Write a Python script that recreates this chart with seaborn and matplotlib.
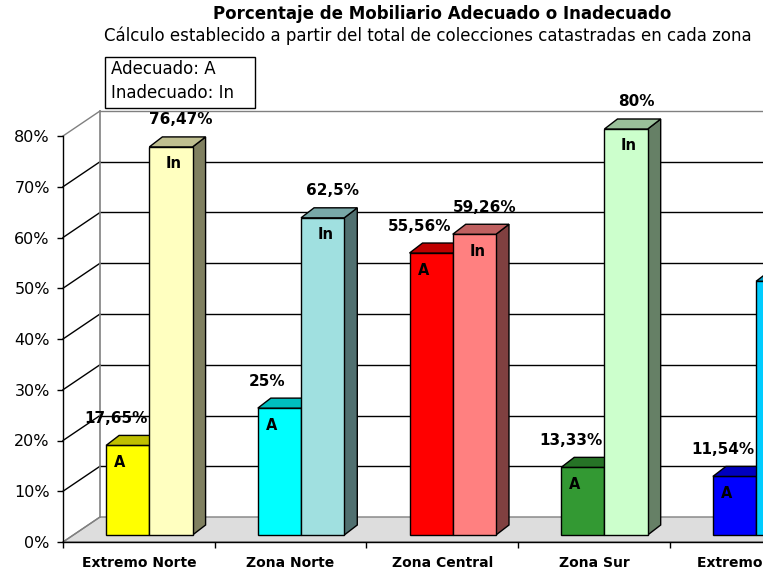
import matplotlib
matplotlib.use("Agg")
import matplotlib.pyplot as plt
import matplotlib.colors as mcolors
from matplotlib.patches import Polygon, Rectangle
import seaborn as sns
import pandas as pd

# ---- data ----
zonas = ["Extremo Norte", "Zona Norte", "Zona Central", "Zona Sur", "Extremo Sur"]
adecuado = [17.65, 25, 55.56, 13.33, 11.54]
inadecuado = [76.47, 62.5, 59.26, 80, 50]
colores_a = ["#FFFF00", "#00FFFF", "#FF0000", "#339933", "#0000FF"]
colores_in = ["#FFFFC0", "#A0E0E0", "#FF8080", "#CCFFCC", "#00CCFF"]
yticks = [0, 10, 20, 30, 40, 50, 60, 70, 80]

plt.rcParams['font.family'] = ['DejaVu Sans']

W, H = 763, 573
fig = plt.figure(figsize=(W / 100, H / 100), dpi=100)
ax = fig.add_axes([63 / W, 31 / H, 758.5 / W, 406 / H])

df = pd.DataFrame({
    "zona": zonas * 2,
    "tipo": ["A"] * len(zonas) + ["In"] * len(zonas),
    "valor": adecuado + inadecuado,
})
sns.barplot(data=df, x="zona", y="valor", hue="tipo", width=0.57, dodge=True,
            legend=False, edgecolor="black", linewidth=1, ax=ax)
ax.set_xlim(-0.5, 4.5)
ax.set_ylim(0, 80)

# pixel -> data conversion for the fake 3D depth
cat_px = 758.5 / 5
pct_px = 406 / 80
def dxy(px, py):
    return px / cat_px, py / pct_px

wdx, wdy = dxy(37, 25)     # back wall offset
sdx, sdy = dxy(10.5, 7)    # bar front plane offset
bdx, bdy = dxy(13, 10)     # bar depth

def shade(c, f):
    r, g, b = mcolors.to_rgb(c)
    return (r * f, g * f, b * f)

# back wall + floor + side wall
ax.add_patch(Rectangle((-0.5 + wdx, wdy), 6, 80, facecolor="white", edgecolor="none",
                       zorder=0.2, clip_on=False))
ax.add_patch(Polygon([(-0.5, 0), (5.5, 0), (5.5 + wdx, wdy), (-0.5 + wdx, wdy)],
                     closed=True, facecolor="#DDDDDD", edgecolor="#808080", lw=1,
                     zorder=0.3, clip_on=False))
for v in yticks[1:]:
    col = "#808080" if v == 80 else "black"
    ax.plot([-0.5 + wdx, 5.5 + wdx], [v + wdy, v + wdy], color=col, lw=1,
            zorder=0.5, clip_on=False)
for v in yticks:
    col = "#808080" if v in (0, 80) else "black"
    ax.plot([-0.5, -0.5 + wdx], [v, v + wdy], color=col, lw=1, zorder=0.5, clip_on=False)
ax.plot([-0.5 + wdx, -0.5 + wdx], [wdy, 80 + wdy], color="#808080", lw=1.2,
        zorder=0.6, clip_on=False)

def fmt(v):
    return f"{v:g}".replace(".", ",") + "%"

# last visible x (data units) - chart runs past the right edge of the picture
x_edge = -0.5 + (W - 63) / cat_px

for p in list(ax.patches):
    if not isinstance(p, Rectangle) or p.get_height() <= 0 or p.get_width() > 1:
        continue
    x0, w, h = p.get_x(), p.get_width(), p.get_height()
    i = int(round(x0 + w / 2))
    is_a = (x0 + w / 2) < i
    front = colores_a[i] if is_a else colores_in[i]
    z = 3 if is_a else 4
    x0 += sdx
    p.set_x(x0)
    p.set_y(sdy)
    p.set_facecolor(front)
    p.set_zorder(z)
    p.set_clip_on(False)
    top = sdy + h
    x1 = x0 + w
    ax.add_patch(Polygon([(x0, top), (x1, top), (x1 + bdx, top + bdy), (x0 + bdx, top + bdy)],
                         closed=True, facecolor=shade(front, 0.75), edgecolor="black",
                         lw=1, zorder=z, clip_on=False))
    ax.add_patch(Polygon([(x1, sdy), (x1, top), (x1 + bdx, top + bdy), (x1 + bdx, sdy + bdy)],
                         closed=True, facecolor=shade(front, 0.5), edgecolor="black",
                         lw=1, zorder=z - 0.5, clip_on=False))
    cx = x0 + w / 2
    if cx > x_edge:
        continue  # labels of this bar fall outside the picture
    ax.annotate(fmt(h), xy=(cx, top), xytext=(-12 if is_a else 10, 27),
                textcoords="offset pixels", ha="center", va="center",
                fontsize=11, fontweight="bold", zorder=6, annotation_clip=False)
    ax.annotate("A" if is_a else "In", xy=(cx, top), xytext=(-8 if is_a else 3, -17),
                textcoords="offset pixels", ha="center", va="center",
                fontsize=10.5, fontweight="bold", zorder=6, annotation_clip=False)

# axes styling
for s in ["top", "right"]:
    ax.spines[s].set_visible(False)
for s in ["left", "bottom"]:
    ax.spines[s].set_color("black")
    ax.spines[s].set_linewidth(1)
    ax.spines[s].set_zorder(5)
ax.set_facecolor("none")
ax.set_yticks(yticks)
ax.set_yticklabels([f"{v}%" for v in yticks], fontsize=11.5)
ax.tick_params(axis="y", length=4, width=1, pad=5.5, direction="out")
ax.set_xticks(range(len(zonas)))
ax.set_xticklabels(zonas, fontsize=10, fontweight="bold")
ax.set_xticks([k - 0.5 for k in range(len(zonas) + 1)], minor=True)
ax.tick_params(axis="x", which="major", length=0, pad=10)
ax.tick_params(axis="x", which="minor", length=4.5, width=1, direction="out")
ax.set_xlabel("")
ax.set_ylabel("")

# titles
fig.text(442 / W, 1 - 14 / H, "Porcentaje de Mobiliario Adecuado o Inadecuado",
         ha="center", va="center", fontsize=12, fontweight="bold")
fig.text(428 / W, 1 - 36 / H,
         "Cálculo establecido a partir del total de colecciones catastradas en cada zona",
         ha="center", va="center", fontsize=12)

# legend box
fig.add_artist(Rectangle((105 / W, 1 - 108 / H), 150 / W, 51 / H, transform=fig.transFigure,
                         facecolor="white", edgecolor="black", lw=1))
fig.text(111 / W, 1 - 69 / H, "Adecuado: A", ha="left", va="center", fontsize=12)
fig.text(111 / W, 1 - 93 / H, "Inadecuado: In", ha="left", va="center", fontsize=12)

fig.savefig("out.png", dpi=100)
